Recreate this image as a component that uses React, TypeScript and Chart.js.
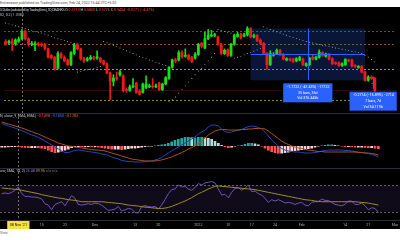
import React, { useEffect, useRef } from 'react';
import { Chart, registerables } from 'chart.js';

Chart.register(...registerables);

// ---------------- categories (daily) ----------------
const firstDay = '2021-11-03';
const dayCount = 120;
const dayLabels: string[] = (() => {
  const out: string[] = [];
  const t0 = Date.parse(firstDay + 'T00:00:00Z');
  for (let i = 0; i < dayCount; i++) out.push(new Date(t0 + i * 86400000).toISOString().slice(0, 10));
  return out;
})();

// ---------------- price candles ----------------
const openP = [1.13,1.115,1.135,1.105,1.13,1.16,1.24,1.16,1.10,1.095,
1.105,1.10,1.095,1.05,0.98,0.96,0.84,0.995,0.96,0.93,
0.88,1.00,1.095,1.05,0.945,0.93,0.94,0.955,0.95,0.95,
0.92,0.89,0.79,0.70,0.74,0.77,0.76,0.61,0.60,0.64,
0.68,0.59,0.58,0.63,0.64,0.65,0.64,0.68,0.61,0.67,
0.73,0.85,0.93,0.93,1.01,0.97,0.98,0.96,0.95,0.99,
1.11,1.06,1.16,1.19,1.195,1.18,1.10,1.00,1.04,0.98,
1.10,1.185,1.21,1.19,1.20,1.27,1.18,1.195,1.145,1.11,
1.00,0.88,0.98,1.00,1.035,0.99,0.93,0.94,0.94,0.92,
0.93,0.94,0.87,0.88,0.96,0.94,0.96,1.01,0.97,0.995,
0.945,0.90,0.90,0.87,0.88,0.93,0.93,0.87,0.85,0.86,
0.80,0.71,0.745,0.73];
const closeP = [1.103,1.13,1.105,1.145,1.155,1.24,1.16,1.10,1.11,1.105,
1.095,1.09,1.055,0.96,0.955,0.83,1.00,0.96,0.92,0.88,
1.01,1.095,1.05,0.94,0.92,0.945,0.96,0.945,0.965,0.915,
0.885,0.79,0.70,0.735,0.73,0.80,0.60,0.60,0.64,0.65,
0.58,0.56,0.67,0.67,0.65,0.64,0.65,0.61,0.67,0.74,
0.85,0.93,0.92,1.01,0.965,0.98,0.94,0.915,0.995,1.10,
1.08,1.16,1.195,1.20,1.20,1.10,1.00,1.035,0.98,1.10,
1.195,1.21,1.165,1.20,1.27,1.18,1.195,1.135,1.11,1.00,
0.88,1.00,0.99,1.035,0.99,0.94,0.945,0.93,0.915,0.945,
0.955,0.88,0.89,0.95,0.94,0.96,1.015,0.98,0.995,0.94,
0.89,0.89,0.87,0.89,0.935,0.92,0.865,0.86,0.86,0.80,
0.71,0.745,0.73,0.60];
const highP = [1.15,1.145,1.16,1.16,1.18,1.26,1.255,1.17,1.13,1.13,
1.12,1.115,1.11,1.06,0.99,0.97,1.02,1.01,0.975,0.94,
1.02,1.11,1.11,1.06,0.96,0.96,0.98,0.97,1.03,0.96,
0.93,0.90,0.80,0.77,0.80,0.82,0.77,0.63,0.66,0.73,
0.69,0.61,0.68,0.76,0.67,0.73,0.67,0.69,0.68,0.75,
0.86,0.94,0.95,1.03,1.03,1.05,0.99,0.97,1.01,1.11,
1.12,1.23,1.26,1.25,1.22,1.19,1.11,1.05,1.05,1.11,
1.21,1.23,1.22,1.22,1.29,1.28,1.21,1.205,1.16,1.12,
1.01,1.03,1.01,1.05,1.045,1.00,0.955,0.95,0.95,0.955,
0.97,0.95,0.90,0.96,0.98,0.97,1.04,1.02,1.005,1.00,
0.955,0.91,0.91,0.90,0.945,0.94,0.94,0.88,0.87,0.87,
0.81,0.76,0.76,0.74];
const lowP = [1.09,1.10,1.03,1.09,1.12,1.15,1.145,1.08,1.085,1.03,
1.08,1.075,1.04,0.95,0.94,0.82,0.83,0.945,0.91,0.87,
0.87,0.99,1.04,0.93,0.905,0.915,0.93,0.93,0.935,0.90,
0.875,0.78,0.50,0.65,0.71,0.755,0.585,0.58,0.59,0.63,
0.57,0.55,0.57,0.62,0.63,0.625,0.63,0.60,0.60,0.66,
0.72,0.84,0.90,0.92,0.95,0.96,0.93,0.90,0.94,0.98,
1.065,1.05,1.15,1.18,1.18,1.09,0.99,0.99,0.97,0.97,
1.09,1.175,1.155,1.18,1.19,1.17,1.17,1.13,1.10,0.99,
0.83,0.87,0.97,0.99,0.98,0.93,0.92,0.92,0.905,0.91,
0.92,0.87,0.86,0.87,0.93,0.93,0.95,0.97,0.96,0.93,
0.88,0.88,0.86,0.86,0.87,0.91,0.855,0.85,0.84,0.79,
0.70,0.70,0.72,0.59];
// parabolic SAR dots
const sarP = [1.33,1.32,1.31,1.30,1.29,1.28,1.27,1.26,1.25,1.24,
1.23,1.22,1.21,1.20,1.185,1.17,1.16,1.15,1.14,1.13,
1.12,1.11,0.80,0.805,0.815,0.825,0.83,0.84,0.85,0.86,
1.13,1.12,1.105,1.09,1.075,1.06,1.045,1.03,1.015,1.00,
0.985,0.97,0.955,0.945,0.93,0.92,0.905,0.895,0.88,0.87,
0.48,0.50,0.53,0.57,0.61,0.65,0.69,0.73,0.77,0.81,
0.84,0.88,0.92,0.96,1.00,1.26,1.25,1.24,1.23,1.22,
0.95,0.96,0.97,0.985,1.00,1.01,1.025,1.04,1.055,1.29,
1.275,1.26,1.247,1.234,1.222,1.21,1.198,1.186,1.175,1.164,
1.153,1.142,1.13,1.122,1.114,1.106,1.098,1.09,1.082,1.075,
1.068,1.06,1.053,1.046,1.039,1.032,1.025,1.018,1.01,1.00,
0.98,0.96,0.935,0.91];

// horizontal price levels
const levelPrices = [1.24, 1.10, 0.83, 0.61, 0.50];

// date & price range tools
const rangeStartDates = ['2022-01-17', '2022-02-23'];
const rangeEndDates = ['2022-02-21', '2022-02-24'];
const rangeHighs = [1.27, 0.75];
const rangeLows = [0.71, 0.62];
const rangeLabel1 = ['\u22121.7722 (\u221241.43%) \u221217722', '35 bars, 35d', 'Vol 376.445b'];
const rangeLabel2 = ['\u22120.2714 (\u221216.89%) \u22122714', '7 bars, 7d', 'Vol 54.119b'];

// crosshair
const crosshairDate = '2021-11-08';
const crosshairText = "08 Nov '21";

// ---------------- MACD ----------------
const macdLine = [0.225,0.215,0.20,0.19,0.18,0.165,0.155,0.14,0.125,0.11,
0.10,0.085,0.07,0.05,0.03,0.01,-0.01,-0.03,-0.05,-0.065,
-0.065,-0.055,-0.045,-0.04,-0.045,-0.05,-0.055,-0.06,-0.065,-0.07,
-0.08,-0.085,-0.095,-0.11,-0.12,-0.13,-0.145,-0.15,-0.155,-0.155,
-0.16,-0.16,-0.16,-0.155,-0.15,-0.15,-0.14,-0.13,-0.115,-0.09,
-0.07,-0.05,-0.03,-0.01,0.01,0.03,0.05,0.07,0.09,0.12,
0.14,0.16,0.19,0.21,0.21,0.20,0.17,0.145,0.135,0.14,
0.15,0.16,0.165,0.18,0.195,0.20,0.195,0.185,0.17,0.14,
0.10,0.06,0.03,0.00,-0.025,-0.04,-0.05,-0.055,-0.06,-0.06,
-0.065,-0.07,-0.07,-0.07,-0.065,-0.06,-0.05,-0.045,-0.04,-0.04,
-0.04,-0.04,-0.04,-0.045,-0.045,-0.05,-0.055,-0.06,-0.065,-0.07,
-0.075,-0.085,-0.095,-0.11];
const signalLine = [0.24,0.23,0.22,0.21,0.20,0.19,0.18,0.17,0.155,0.145,
0.13,0.12,0.105,0.09,0.075,0.06,0.045,0.03,0.02,0.01,
0.00,-0.005,-0.01,-0.015,-0.02,-0.025,-0.03,-0.035,-0.04,-0.04,
-0.045,-0.05,-0.06,-0.07,-0.08,-0.09,-0.10,-0.11,-0.12,-0.13,
-0.135,-0.14,-0.145,-0.15,-0.15,-0.15,-0.15,-0.145,-0.14,-0.13,
-0.12,-0.11,-0.095,-0.08,-0.065,-0.05,-0.03,-0.015,0.00,0.02,
0.05,0.08,0.11,0.13,0.15,0.16,0.165,0.165,0.16,0.16,
0.16,0.16,0.165,0.165,0.17,0.17,0.175,0.175,0.175,0.17,
0.15,0.125,0.10,0.075,0.05,0.03,0.015,0.00,-0.01,-0.02,
-0.025,-0.035,-0.04,-0.045,-0.05,-0.055,-0.055,-0.06,-0.06,-0.06,
-0.06,-0.06,-0.06,-0.06,-0.06,-0.06,-0.06,-0.065,-0.065,-0.07,
-0.07,-0.075,-0.08,-0.09];
const macdHist = [-0.015,-0.015,-0.012,-0.01,-0.01,-0.012,-0.015,-0.018,-0.02,-0.02,
-0.02,-0.022,-0.025,-0.03,-0.045,-0.06,-0.07,-0.065,-0.055,-0.045,
-0.035,-0.02,-0.01,-0.01,-0.012,-0.012,-0.01,-0.012,-0.012,-0.015,
-0.02,-0.025,-0.03,-0.035,-0.035,-0.035,-0.04,-0.035,-0.03,-0.025,
-0.025,-0.02,-0.015,-0.01,-0.005,-0.005,0.005,0.01,0.015,0.02,
0.03,0.045,0.06,0.07,0.08,0.09,0.09,0.085,0.085,0.09,
0.09,0.085,0.08,0.07,0.05,0.03,0.01,-0.01,-0.02,-0.015,
-0.005,0.005,0.01,0.02,0.03,0.03,0.025,0.015,-0.005,-0.025,
-0.045,-0.06,-0.07,-0.075,-0.075,-0.07,-0.065,-0.055,-0.05,-0.045,
-0.04,-0.035,-0.03,-0.025,-0.015,-0.005,0.005,0.01,0.015,0.015,
0.01,0.005,-0.005,-0.01,-0.01,-0.012,-0.015,-0.015,-0.015,-0.018,
-0.02,-0.02,-0.025,-0.03];

// ---------------- RSI ----------------
const rsiLine = [57,58,57,59,62,67,57,53,53,52,
52,51,49,42,40,33,41,43,45,39,
47,54,50,41,40,41,42,41,43,42,
40,36,32,33,34,38,31,33,35,34,
29,28,38,39,38,37,38,34,40,48,
57,63,64,70,67,68,64,62,66,72,
70,73,74,75,73,64,55,56,51,59,
65,66,62,65,70,60,61,57,55,50,
44,48,46,48,46,43,44,43,41,43,
44,40,39,44,45,45,49,47,47,44,
41,40,39,41,46,46,41,41,43,39,
33,36,35,29];
const rsiMa = [65.5,65,64.5,64,63.5,63,62,61,60,59,
58,57,55.5,54.5,53.5,52.5,51.5,50.5,50,49,
48,47.5,47,46,45,45,45,45,45,45,
45,44.5,44,43.5,43,42.5,42,41,40,39.5,
39,38.5,37.5,37,36.5,36,35.5,35,35,35.5,
36.5,38,40,42,44,46,48.5,51,54,57,
59,61.5,64,66,68,68.5,68,67.5,67,66.5,
66,65.5,65,64.5,64,63.5,63,62,61,60,
59,58,57,56,55,54,53,52,51,50,
49,48,47.5,47,46,45.5,45,45,45,45,
45,45,45,45,45,45,45,44.5,44,43.5,
43,42,41,40];
const rsiBands = [70, 30];

// ---------------- time axis ----------------
const timeTickDates = ['2021-11-15','2021-11-22','2021-12-01','2021-12-13','2021-12-20','2022-01-01','2022-01-10','2022-01-17','2022-01-24','2022-02-01','2022-02-14','2022-02-21','2022-03-01'];
const timeTickLabels = ['15','22','Dec','13','20','2022','10','17','24','Feb','14','21','Mar'];

// ---------------- styles ----------------
const FONT = "Roboto, 'Noto Sans', 'DejaVu Sans', sans-serif";
const UP = '#16e016';
const DOWN = '#f01a1a';
const levelColors = ['#2c6b47', '#8a5a1c', '#a8992a', '#2e0b0b', '#8e8a2a'];
const levelDashes = [[2, 2], [2, 2], [2, 2], [], [2, 2]];
const BLUE = '#2962FF';
const MACD_BLUE = '#2446b8';
const MACD_ORANGE = '#a9521c';
const RSI_PURPLE = '#7052b8';
const RSI_MA = '#9d8c2e';

const idxOf = (d: string) => dayLabels.indexOf(d);
const crossIdx = idxOf(crosshairDate);

const crosshairPlugin = {
  id: 'crosshair',
  afterDatasetsDraw(chart: any) {
    const { ctx } = chart;
    const x = Math.round(chart.scales.x.getPixelForValue(crossIdx)) + 0.5;
    ctx.save();
    ctx.strokeStyle = 'rgba(150,150,105,0.75)';
    ctx.lineWidth = 1;
    ctx.setLineDash([2, 2]);
    ctx.beginPath();
    ctx.moveTo(x, 0);
    ctx.lineTo(x, chart.height);
    ctx.stroke();
    ctx.restore();
  },
};

const baseOptions = (yMin: number, yMax: number) => ({
  animation: false as const,
  responsive: false,
  maintainAspectRatio: false,
  devicePixelRatio: 1,
  events: [],
  layout: { padding: 0 },
  plugins: { legend: { display: false }, tooltip: { enabled: false } },
  scales: {
    x: { display: false, offset: true, grid: { display: false } },
    y: { display: false, min: yMin, max: yMax, grid: { display: false } },
  },
});

function drawLabel(ctx: CanvasRenderingContext2D, cx: number, top: number, lines: string[]) {
  ctx.save();
  ctx.font = `3.6px ${FONT}`;
  const w = Math.max(...lines.map((l) => ctx.measureText(l).width)) + 6;
  ctx.fillStyle = BLUE;
  ctx.fillRect(cx - w / 2, top, w, 19);
  ctx.fillStyle = '#ffffff';
  ctx.textAlign = 'center';
  ctx.textBaseline = 'middle';
  lines.forEach((l, k) => ctx.fillText(l, cx, top + 3.8 + k * 5.7));
  ctx.restore();
}

const mainOverlay = {
  id: 'mainOverlay',
  beforeDatasetsDraw(chart: any) {
    const { ctx, chartArea } = chart;
    const { x, y } = chart.scales;
    ctx.save();
    levelPrices.forEach((p, k) => {
      const py = Math.round(y.getPixelForValue(p)) + 0.5;
      ctx.strokeStyle = levelColors[k];
      ctx.lineWidth = 1;
      ctx.setLineDash(levelDashes[k]);
      ctx.beginPath();
      ctx.moveTo(chartArea.left, py);
      ctx.lineTo(chartArea.right, py);
      ctx.stroke();
    });
    ctx.setLineDash([]);
    rangeStartDates.forEach((d, k) => {
      const x0 = x.getPixelForValue(idxOf(d));
      const x1 = x.getPixelForValue(idxOf(rangeEndDates[k]));
      const y0 = y.getPixelForValue(rangeHighs[k]);
      const y1 = y.getPixelForValue(rangeLows[k]);
      ctx.fillStyle = 'rgba(41,98,255,0.22)';
      ctx.fillRect(x0, y0, x1 - x0, y1 - y0);
    });
    ctx.restore();
  },
  afterDatasetsDraw(chart: any) {
    const { ctx } = chart;
    const { x, y } = chart.scales;
    ctx.save();
    ctx.strokeStyle = BLUE;
    ctx.lineWidth = 1;
    rangeStartDates.forEach((d, k) => {
      const x0 = x.getPixelForValue(idxOf(d));
      const x1 = x.getPixelForValue(idxOf(rangeEndDates[k]));
      const y0 = y.getPixelForValue(rangeHighs[k]);
      const y1 = y.getPixelForValue(rangeLows[k]);
      const mx = Math.round((x0 + x1) / 2) + 0.5;
      const my = Math.round((y0 + y1) / 2) + 0.5;
      ctx.beginPath();
      ctx.moveTo(x0, my);
      ctx.lineTo(x1, my);
      ctx.moveTo(mx, y0);
      ctx.lineTo(mx, y1);
      ctx.stroke();
      drawLabel(ctx, (x0 + x1) / 2, y1 + 3, k === 0 ? rangeLabel1 : rangeLabel2);
    });
    ctx.restore();
  },
};

const rsiOverlay = {
  id: 'rsiOverlay',
  beforeDatasetsDraw(chart: any) {
    const { ctx, chartArea } = chart;
    const y = chart.scales.y;
    const yTop = y.getPixelForValue(rsiBands[0]);
    const yBot = y.getPixelForValue(rsiBands[1]);
    ctx.save();
    ctx.fillStyle = 'rgba(126,87,194,0.12)';
    ctx.fillRect(chartArea.left, yTop, chartArea.right - chartArea.left, yBot - yTop);
    ctx.strokeStyle = '#5d5f6b';
    ctx.lineWidth = 1;
    ctx.setLineDash([2, 2]);
    [yTop, yBot].forEach((py) => {
      const p = Math.round(py) + 0.5;
      ctx.beginPath();
      ctx.moveTo(chartArea.left, p);
      ctx.lineTo(chartArea.right, p);
      ctx.stroke();
    });
    ctx.restore();
  },
  afterDraw(chart: any) {
    const { ctx, chartArea } = chart;
    const cx = chart.scales.x.getPixelForValue(crossIdx);
    ctx.save();
    ctx.font = `3.7px ${FONT}`;
    const w = ctx.measureText(crosshairText).width + 5;
    ctx.fillStyle = '#f3e33c';
    ctx.fillRect(cx - w / 2, chartArea.bottom, w, chart.height - chartArea.bottom);
    ctx.fillStyle = '#131722';
    ctx.textAlign = 'center';
    ctx.textBaseline = 'middle';
    ctx.fillText(crosshairText, cx, (chartArea.bottom + chart.height) / 2 + 0.3);
    ctx.restore();
  },
};

export default function App() {
  const mainRef = useRef<HTMLCanvasElement>(null);
  const macdRef = useRef<HTMLCanvasElement>(null);
  const rsiRef = useRef<HTMLCanvasElement>(null);

  useEffect(() => {
    document.body.style.margin = '0';
    document.body.style.background = '#ffffff';
    const candleColors = openP.map((o, i) => (closeP[i] >= o ? UP : DOWN));

    const mainChart = new Chart(mainRef.current as HTMLCanvasElement, {
      type: 'bar',
      data: {
        labels: dayLabels,
        datasets: [
          { type: 'bar', data: lowP.map((l, i) => [l, highP[i]]) as any, backgroundColor: candleColors, barThickness: 1, grouped: false, order: 3 },
          { type: 'bar', data: openP.map((o, i) => [o, closeP[i]]) as any, backgroundColor: candleColors, barThickness: 2.2, minBarLength: 1, grouped: false, order: 2 },
          { type: 'line', data: sarP, showLine: false, pointRadius: 0.6, pointStyle: 'rect', pointBackgroundColor: '#b8b8b8', pointBorderWidth: 0, order: 1 } as any,
        ],
      },
      options: baseOptions(0.40, 1.46) as any,
      plugins: [mainOverlay, crosshairPlugin],
    });

    const histColors = macdHist.map((v, i) => {
      const prev = i > 0 ? macdHist[i - 1] : v;
      if (v >= 0) return v >= prev ? '#26A69A' : '#B2DFDB';
      return v < prev ? '#FF5252' : '#FFCDD2';
    });
    const macdChart = new Chart(macdRef.current as HTMLCanvasElement, {
      type: 'bar',
      data: {
        labels: dayLabels,
        datasets: [
          { type: 'bar', data: macdHist, backgroundColor: histColors, categoryPercentage: 1, barPercentage: 0.8, order: 3 },
          { type: 'line', data: macdLine, borderColor: MACD_BLUE, borderWidth: 1, pointRadius: 0, order: 2 } as any,
          { type: 'line', data: signalLine, borderColor: MACD_ORANGE, borderWidth: 1, pointRadius: 0, order: 1 } as any,
        ],
      },
      options: baseOptions(-0.22, 0.33) as any,
      plugins: [crosshairPlugin],
    });

    const tickMap: Record<number, string> = {};
    timeTickDates.forEach((d, k) => { tickMap[idxOf(d)] = timeTickLabels[k]; });
    const rsiOpts: any = baseOptions(16.3, 95.2);
    rsiOpts.scales.x = {
      display: true,
      offset: true,
      grid: { display: false, drawTicks: false },
      border: { display: false },
      afterFit: (s: any) => { s.height = 8; },
      ticks: {
        autoSkip: false,
        maxRotation: 0,
        minRotation: 0,
        padding: 1.6,
        color: '#a3a6af',
        font: { size: 3.7, family: FONT },
        callback: (_v: any, i: number) => tickMap[i] ?? '',
      },
    };
    const rsiChart = new Chart(rsiRef.current as HTMLCanvasElement, {
      type: 'line',
      data: {
        labels: dayLabels,
        datasets: [
          { data: rsiLine, borderColor: RSI_PURPLE, borderWidth: 1, pointRadius: 0, order: 2 },
          { data: rsiMa, borderColor: RSI_MA, borderWidth: 1, pointRadius: 0, order: 1 },
        ],
      },
      options: rsiOpts,
      plugins: [rsiOverlay, crosshairPlugin],
    });

    return () => {
      mainChart.destroy();
      macdChart.destroy();
      rsiChart.destroy();
    };
  }, []);

  const abs = (top: number, size: number, extra: any = {}) => ({
    position: 'absolute' as const,
    left: 0,
    top: top - size / 2,
    fontSize: size,
    lineHeight: `${size}px`,
    whiteSpace: 'nowrap' as const,
    ...extra,
  });
  const red = '#f5454f';
  const lbl = '#c9ccd4';

  return (
    <div style={{ position: 'relative', width: 400, height: 240, background: '#fff', overflow: 'hidden', fontFamily: FONT }}>
      <div style={abs(3.6, 3.6, { color: '#4d4d4d' })}>Entrenasse published on TradingView.com, Feb 24, 2022 15:44 UTC+5:30</div>
      <div style={{ position: 'absolute', left: 0, top: 7, width: 400, height: 222, background: '#000' }}>
        <canvas ref={mainRef} width={400} height={106} style={{ position: 'absolute', left: 0, top: 0, width: 400, height: 106 }} />
        <canvas ref={macdRef} width={400} height={55} style={{ position: 'absolute', left: 0, top: 106, width: 400, height: 55 }} />
        <canvas ref={rsiRef} width={400} height={61} style={{ position: 'absolute', left: 0, top: 161, width: 400, height: 61 }} />
        <div style={{ position: 'absolute', left: 0, top: 106, width: 400, height: 1, background: '#2a2e39' }} />
        <div style={{ position: 'absolute', left: 0, top: 161, width: 400, height: 1, background: '#2a2e39' }} />
        <div style={{ position: 'absolute', left: 0, top: 213, width: 400, height: 1, background: '#2a2e39' }} />

        <div style={abs(4, 3.6, { color: lbl })}>
          <span style={{ letterSpacing: -0.3 }}>S Dollar (calculated by TradingView), 1D, DBANKS</span>
          {'  '}O <span style={{ color: red }}>0.5730</span> H <span style={{ color: red }}>0.5800</span> L <span style={{ color: red }}>0.5776</span> C <span style={{ color: red }}>0.5454</span> <span style={{ color: red }}>{'\u22120.0271 (\u22124.47%)'}</span>
        </div>
        <div style={abs(9, 3.6, { color: lbl })}>02, 0.2)  <span style={{ color: '#b8b8b8' }}>1.0383</span></div>
        <div style={abs(110, 3.6, { color: lbl })}>
          N, close, 9, EMA, EMA)  <span style={{ color: '#FF5252' }}>{'\u22120.1498'}</span>  <span style={{ color: '#4a78ff' }}>{'\u22120.1850'}</span>  <span style={{ color: '#FF6D00' }}>{'\u22120.1783'}</span>
        </div>
        <div style={abs(165, 3.6, { color: lbl })}>
          ww, SMA, 14, 2)  <span style={{ color: '#9575d6' }}>25.48</span>  <span style={{ color: '#c4ae36' }}>39.95</span>  <span style={{ color: '#787b86' }}>n/a  n/a</span>
        </div>
      </div>
      <div style={abs(234, 3.6, { color: '#666' })}>View</div>
    </div>
  );
}
